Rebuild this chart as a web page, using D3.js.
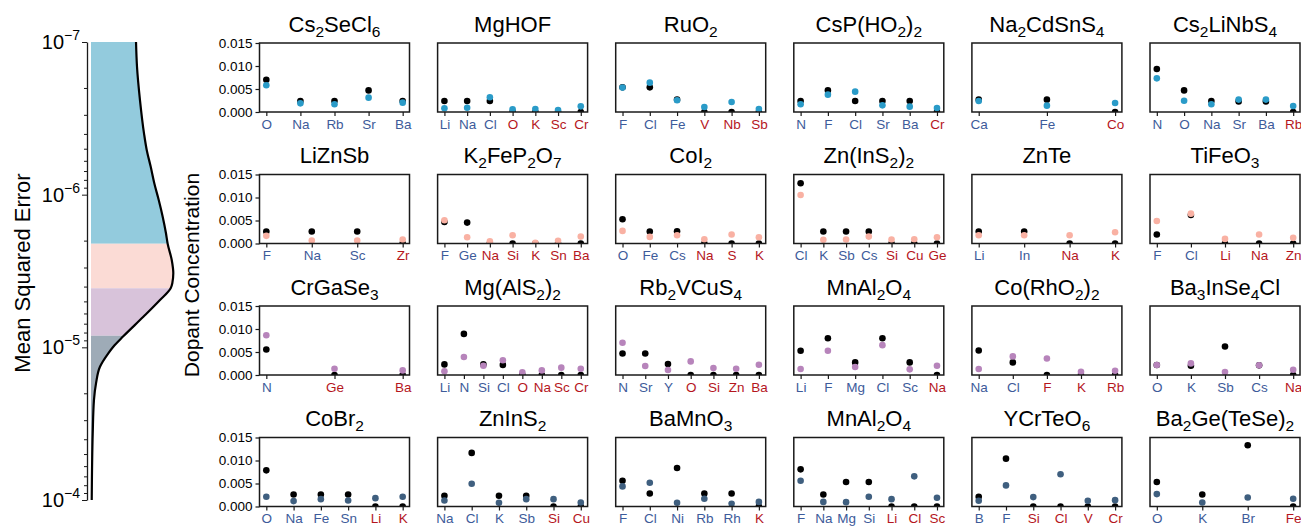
<!DOCTYPE html>
<html>
<head>
<meta charset="utf-8">
<script src="https://cdn.jsdelivr.net/npm/d3@7"></script>
<style>
  html, body { margin: 0; padding: 0; background: #fff; }
  svg { display: block; font-family: "Liberation Sans", Arial, Helvetica, sans-serif; }
</style>
</head>
<body>
<svg id="chart" width="1301" height="529"></svg>
<script>
// ---- MSE distribution (log10 MSE vs. relative density) ----
const logMse = [-7, -6.838, -6.62, -6.402, -6.293, -6.184, -6.075, -5.965, -5.856, -5.747, -5.677,
  -5.572, -5.485, -5.42, -5.387, -5.31, -5.2, -5.072, -5.004, -4.961, -4.873, -4.764, -4.655, -4.437, -4.0];
const mseDensity = [0.547, 0.559, 0.595, 0.644, 0.677, 0.725, 0.769, 0.823, 0.871, 0.911, 0.932,
  0.981, 1.0, 0.988, 0.968, 0.838, 0.636, 0.392, 0.271, 0.210, 0.109, 0.061, 0.036, 0.021, 0.009];
const bandEdges = [1e-7, 2.1e-6, 4.1e-6, 8.4e-6, 1e-4];
const bandColors = ["#93cbdd", "#fbdbd5", "#d8c3da", "#9eabb7"];
const mseTicks = [1e-7, 1e-6, 1e-5, 1e-4];

// ---- Dopant concentration panels ----
const titles = [
  "Cs2SeCl6", "MgHOF", "RuO2", "CsP(HO2)2", "Na2CdSnS4", "Cs2LiNbS4",
  "LiZnSb", "K2FeP2O7", "CoI2", "Zn(InS2)2", "ZnTe", "TiFeO3",
  "CrGaSe3", "Mg(AlS2)2", "Rb2VCuS4", "MnAl2O4", "Co(RhO2)2", "Ba3InSe4Cl",
  "CoBr2", "ZnInS2", "BaMnO3", "MnAl2O4", "YCrTeO6", "Ba2Ge(TeSe)2"
];
const dopants = [
  ["O", "Na", "Rb", "Sr", "Ba"],
  ["Li", "Na", "Cl", "O", "K", "Sc", "Cr"],
  ["F", "Cl", "Fe", "V", "Nb", "Sb"],
  ["N", "F", "Cl", "Sr", "Ba", "Cr"],
  ["Ca", "Fe", "Co"],
  ["N", "O", "Na", "Sr", "Ba", "Rb"],
  ["F", "Na", "Sc", "Zr"],
  ["F", "Ge", "Na", "Si", "K", "Sn", "Ba"],
  ["O", "Fe", "Cs", "Na", "S", "K"],
  ["Cl", "K", "Sb", "Cs", "Si", "Cu", "Ge"],
  ["Li", "In", "Na", "K"],
  ["F", "Cl", "Li", "Na", "Zn"],
  ["N", "Ge", "Ba"],
  ["Li", "N", "Si", "Cl", "O", "Na", "Sc", "Cr"],
  ["N", "Sr", "Y", "O", "Si", "Zn", "Ba"],
  ["Li", "F", "Mg", "Cl", "Sc", "Na"],
  ["Na", "Cl", "F", "K", "Rb"],
  ["O", "K", "Sb", "Cs", "Na"],
  ["O", "Na", "Fe", "Sn", "Li", "K"],
  ["Na", "Cl", "K", "Sb", "Si", "Cu"],
  ["F", "Cl", "Ni", "Rb", "Rh", "K"],
  ["F", "Na", "Mg", "Si", "Li", "Cl", "Sc"],
  ["B", "F", "Si", "Cl", "V", "Cr"],
  ["O", "K", "Br", "Fe"]
];
// how many of the listed dopants are actually present (the rest are absent)
const presentCount = [5, 3, 3, 5, 2, 5, 3, 2, 3, 4, 2, 2, 1, 4, 3, 5, 2, 4, 4, 4, 5, 4, 2, 3];
const trueConc = [
  [0.0070, 0.0024, 0.0024, 0.0047, 0.0024],
  [0.0024, 0.0024, 0.0024, 0, 0, 0, 0],
  [0.00536, 0.00536, 0.00268, 0, 0, 0],
  [0.0024, 0.0047, 0.0024, 0.0024, 0.0024, 0],
  [0.00268, 0.00268, 0],
  [0.00935, 0.0047, 0.0024, 0.0023, 0.0023, 0],
  [0.0026, 0.0026, 0.0026, 0],
  [0.00469, 0.00454, 0, 0, 0, 0, 0],
  [0.00527, 0.0026, 0.00267, 0, 0, 0],
  [0.0131, 0.0026, 0.0026, 0.0026, 0, 0, 0],
  [0.0026, 0.0026, 0, 0],
  [0.00195, 0.0062, 0, 0, 0],
  [0.00555, 0, 0],
  [0.0023, 0.00894, 0.0023, 0.0022, 0, 0, 0, 0],
  [0.00469, 0.00469, 0.00238, 0, 0, 0, 0],
  [0.00527, 0.0080, 0.00274, 0.0080, 0.00274, 0],
  [0.00534, 0.00274, 0, 0, 0],
  [0.00216, 0.0020, 0.0062, 0.0021, 0],
  [0.00786, 0.00262, 0.00262, 0.00262, 0, 0],
  [0.00233, 0.01165, 0.00233, 0.00233, 0, 0],
  [0.0056, 0.00284, 0.00837, 0.00284, 0.00284, 0],
  [0.00808, 0.00262, 0.00532, 0.00532, 0, 0, 0],
  [0.00211, 0.0104, 0, 0, 0, 0],
  [0.00532, 0.00262, 0.01333, 0]
];
const predConc = [
  [0.0058, 0.00188, 0.00167, 0.00312, 0.00203],
  [0.0008, 0.00094, 0.0032, 0.00058, 0.00065, 0.00043, 0.00123],
  [0.0053, 0.00638, 0.00254, 0.00109, 0.00217, 0.00065],
  [0.00167, 0.00377, 0.00442, 0.00145, 0.00116, 0.00087],
  [0.0024, 0.00138, 0.00196],
  [0.00732, 0.00246, 0.00167, 0.0027, 0.0027, 0.0013],
  [0.00166, 0.00065, 0.00065, 0.00087],
  [0.00505, 0.00137, 0.0005, 0.0018, 0.00015, 0.00058, 0.0015],
  [0.00274, 0.00144, 0.0018, 0.00094, 0.00195, 0.00137],
  [0.01053, 0.0008, 0.00087, 0.0015, 0.00087, 0.00094, 0.00137],
  [0.0018, 0.0018, 0.0018, 0.00245],
  [0.0049, 0.00649, 0.001, 0.00195, 0.00123],
  [0.00865, 0.00137, 0.001],
  [0.0008, 0.0039, 0.002, 0.0032, 0.00058, 0.001, 0.0016, 0.00137],
  [0.0070, 0.00195, 0.00108, 0.00296, 0.0015, 0.00137, 0.00224],
  [0.0013, 0.00527, 0.00173, 0.00649, 0.00123, 0.002],
  [0.0013, 0.00404, 0.0036, 0.00072, 0.00094],
  [0.00216, 0.00252, 0.00065, 0.0021, 0.00115],
  [0.00211, 0.00117, 0.0016, 0.00131, 0.00182, 0.00211],
  [0.00131, 0.00495, 0.0008, 0.0016, 0.0016, 0.00087],
  [0.00437, 0.00517, 0.0008, 0.00167, 0.00058, 0.001],
  [0.0056, 0.001, 0.00095, 0.00211, 0.0016, 0.00655, 0.0019],
  [0.00124, 0.00459, 0.00204, 0.007, 0.00124, 0.00138],
  [0.0027, 0.00087, 0.00197, 0.00167]
];
const rowColors = ["#2a9bc8", "#f9b1a3", "#b784bb", "#3f5f7f"];
const concTicks = [0, 0.005, 0.010, 0.015];

const presentLabel = "#3d5b9a";
const absentLabel = "#b5161d";
const ink = "#1a1a1a";

const svg = d3.select("#chart");
const defs = svg.append("defs");

// ================= Left: MSE distribution =================
const yMse = d3.scaleLog().domain([1e-7, 1e-4]).range([42, 500]);
const xDen = d3.scaleLinear().domain([0, 1]).range([91, 173.3]);
const pts = logMse.map((l, i) => ({ v: Math.pow(10, l), d: mseDensity[i] }));

const left = svg.append("g");
bandColors.forEach((c, i) => {
  const id = "band" + i;
  defs.append("clipPath").attr("id", id).append("rect")
    .attr("x", 0).attr("width", 200)
    .attr("y", yMse(bandEdges[i])).attr("height", yMse(bandEdges[i + 1]) - yMse(bandEdges[i]));
  left.append("path")
    .datum(pts)
    .attr("clip-path", `url(#${id})`)
    .attr("fill", c)
    .attr("d", d3.area().curve(d3.curveMonotoneY)
      .y(p => yMse(p.v)).x0(xDen(0)).x1(p => xDen(p.d)));
});
left.append("path")
  .datum(pts)
  .attr("fill", "none").attr("stroke", "#000").attr("stroke-width", 2.2)
  .attr("d", d3.line().curve(d3.curveMonotoneY).y(p => yMse(p.v)).x(p => xDen(p.d)));

const mseAxis = left.append("g").attr("transform", "translate(87,0)")
  .call(d3.axisLeft(yMse).tickValues(d3.range(-7, -4).flatMap(e => d3.range(1, 10).map(m => m * Math.pow(10, e))).concat([1e-4]))
    .tickSize(0).tickFormat(""));
mseAxis.select(".domain").attr("stroke", ink).attr("stroke-width", 1.3);
mseAxis.selectAll(".tick line")
  .attr("stroke", ink).attr("stroke-width", 1)
  .attr("x2", d => mseTicks.some(t => Math.abs(t - d) / t < 1e-6) ? -5 : -3);
mseTicks.forEach(t => {
  const tx = left.append("text")
    .attr("x", 80).attr("y", yMse(t) + 7)
    .attr("text-anchor", "end").attr("font-size", 20).attr("fill", "#000");
  tx.append("tspan").text("10");
  tx.append("tspan").attr("dy", -9).attr("font-size", 14).text("\u2212" + (-Math.round(Math.log10(t))));
});
left.append("text")
  .attr("transform", "translate(30,273) rotate(-90)")
  .attr("text-anchor", "middle").attr("font-size", 22).attr("fill", "#000")
  .text("Mean Squared Error");

// ================= Right: concentration panels =================
svg.append("text")
  .attr("transform", "translate(199,275) rotate(-90)")
  .attr("text-anchor", "middle").attr("font-size", 21).attr("fill", "#000")
  .text("Dopant Concentration");

const colLeft = [259.5, 437.6, 615.7, 793.8, 971.9, 1150];
const rowTop = [43, 174.5, 306, 437.5];
const pw = 150, ph = 69;

function addTitle(g, str) {
  const t = g.append("text").attr("x", pw / 2).attr("y", -11.5)
    .attr("text-anchor", "middle").attr("font-size", 22).attr("fill", "#000");
  const parts = str.match(/\d+|\D+/g);
  let sub = false;
  parts.forEach(p => {
    const isNum = /^\d+$/.test(p);
    const ts = t.append("tspan").text(p);
    if (isNum) {
      ts.attr("font-size", 15.5).attr("dy", sub ? 0 : 5);
      sub = true;
    } else {
      if (sub) ts.attr("dy", -5);
      sub = false;
    }
  });
}

titles.forEach((title, k) => {
  const r = Math.floor(k / 6), c = k % 6;
  const g = svg.append("g").attr("transform", `translate(${colLeft[c]},${rowTop[r]})`);
  const cats = dopants[k];
  const n = cats.length;
  const pad = 0.05 * (n - 1);
  const x = d3.scaleLinear().domain([-pad, n - 1 + pad]).range([0, pw]);
  const y = d3.scaleLinear().domain([0, 0.015]).range([ph, 0]);

  const cid = "clip" + k;
  defs.append("clipPath").attr("id", cid).append("rect")
    .attr("x", 0).attr("y", 0).attr("width", pw).attr("height", ph);

  // points: true concentration (black) then prediction (row colour)
  const dots = g.append("g").attr("clip-path", `url(#${cid})`);
  dots.selectAll("circle.t").data(trueConc[k]).join("circle")
    .attr("class", "t").attr("cx", (d, i) => x(i)).attr("cy", d => y(d))
    .attr("r", 3.3).attr("fill", "#000");
  dots.selectAll("circle.p").data(predConc[k]).join("circle")
    .attr("class", "p").attr("cx", (d, i) => x(i)).attr("cy", d => y(d))
    .attr("r", 3.3).attr("fill", rowColors[r]);

  // frame
  g.append("rect").attr("x", 0).attr("y", 0).attr("width", pw).attr("height", ph)
    .attr("fill", "none").attr("stroke", ink).attr("stroke-width", 1.5);

  // x axis
  const xa = g.append("g").attr("transform", `translate(0,${ph})`)
    .call(d3.axisBottom(x).tickValues(d3.range(n)).tickSize(4).tickPadding(3)
      .tickFormat(i => cats[i]));
  xa.select(".domain").remove();
  xa.selectAll(".tick line").attr("stroke", ink).attr("stroke-width", 1.2);
  xa.selectAll(".tick text")
    .attr("font-size", 13.5).attr("font-family", null)
    .attr("fill", i => i < presentCount[k] ? presentLabel : absentLabel);

  // y axis
  const ya = g.append("g")
    .call(d3.axisLeft(y).tickValues(concTicks).tickSize(c === 0 ? 4 : 0).tickPadding(3)
      .tickFormat(c === 0 ? d3.format(".3f") : ""));
  ya.select(".domain").remove();
  ya.selectAll(".tick line").attr("stroke", ink).attr("stroke-width", 1.2);
  ya.selectAll(".tick text").attr("font-size", 13.5).attr("font-family", null).attr("fill", "#000");

  addTitle(g, title);
});
</script>
</body>
</html>
